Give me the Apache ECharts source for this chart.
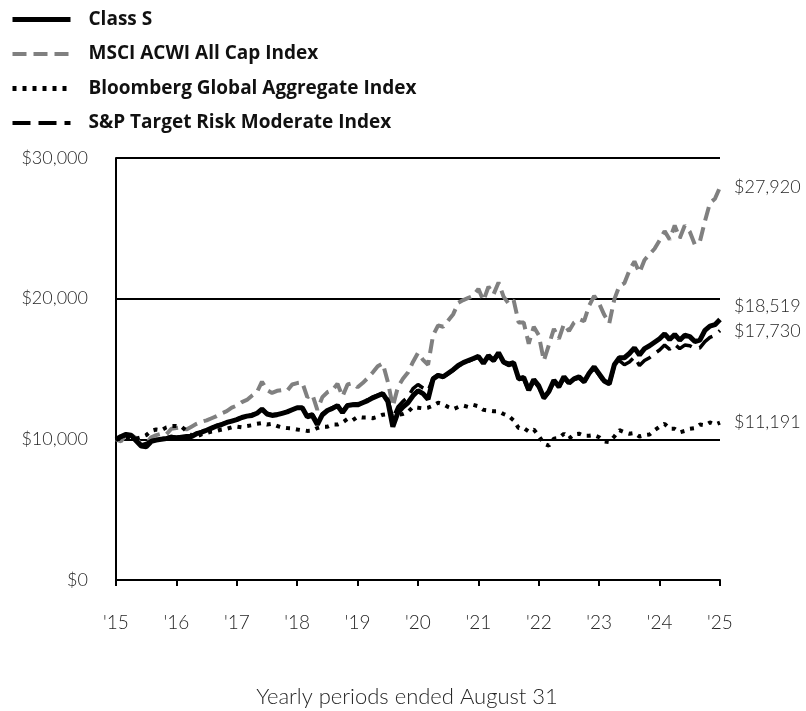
<!DOCTYPE html>
<html>
<head>
<meta charset="utf-8">
<script src="https://cdn.jsdelivr.net/npm/echarts@6/dist/echarts.min.js"></script>
<style>
html,body{margin:0;padding:0;background:#fff;}
#chart{width:806px;height:711px;}
</style>
</head>
<body>
<div id="chart"></div>
<script>
// Monthly points, Aug 2015 .. Aug 2025 (121 points)
const yearLabels = ["'15","'16","'17","'18","'19","'20","'21","'22","'23","'24","'25"];
const seriesNames = ["Class S","MSCI ACWI All Cap Index","Bloomberg Global Aggregate Index","S&P Target Risk Moderate Index"];

const classS = [
10000,10200,10350,10300,9900,9520,9480,9850,9950,10000,10050,10150,
10100,10150,10200,10200,10400,10500,10650,10800,10950,11050,11200,11300,
11400,11550,11650,11700,11850,12150,11800,11700,11750,11850,11950,12100,
12250,12250,11600,11700,11050,11750,12050,12200,12400,11900,12400,12450,
12450,12600,12750,12950,13100,13250,12700,10900,11900,12300,12600,13100,
13450,13250,12850,14300,14550,14450,14700,14950,15250,15450,15600,15750,
15900,15400,15950,15600,16150,15500,15350,15450,14300,14400,13500,14250,
13800,12950,13400,14200,13750,14450,14000,14300,14450,14100,14700,15150,
14650,14150,13950,15300,15800,15800,16100,16500,16000,16450,16650,16900,
17150,17500,17100,17450,17050,17400,17300,16950,17050,17750,18050,18150,
18519];

const msci = [
10000,9850,10350,10300,10100,9600,9700,10150,10300,10400,10350,10750,
10800,10850,10700,10900,11100,11250,11350,11500,11650,11850,12000,12250,
12400,12650,12800,13100,13350,14100,13500,13300,13450,13500,13450,13900,
14000,14050,13000,13200,12100,13000,13350,13500,13950,13050,13900,14000,
13700,14000,14350,14750,15200,15400,14100,12350,13700,14300,14750,15500,
16150,15650,15300,17400,18100,18000,18450,18900,19700,19900,20050,20200,
20700,19850,20850,20300,21150,20150,19650,19900,18300,18300,16800,18000,
17400,15600,16700,17850,17150,18200,17700,18300,18550,18400,19500,20200,
19650,18850,18250,19950,20900,21100,22000,22650,21850,22750,23150,23550,
24150,24800,24200,25200,24300,25200,24750,23850,24050,25500,26800,27100,
27920];

const bloomberg = [
10000,10050,10080,10000,10050,10150,10300,10600,10700,10650,10850,10950,
10950,10900,10600,10250,10200,10350,10450,10550,10600,10700,10750,10850,
10900,10850,10950,11000,11100,11150,11050,11100,10950,10850,10800,10780,
10700,10650,10600,10620,10800,10900,10900,11050,11050,11200,11450,11350,
11600,11550,11550,11500,11600,11750,11800,11600,11750,11800,11950,12300,
12250,12200,12250,12400,12600,12500,12300,12150,12300,12400,12300,12450,
12350,12100,12050,12000,12000,11800,11650,11350,10800,10800,10550,10700,
10250,9700,9550,10050,10100,10400,10050,10350,10400,10250,10250,10300,
10150,9850,9800,10200,10650,10500,10400,10450,10200,10300,10350,10650,
10900,11100,10750,10750,10500,10600,10750,10800,11050,11000,11200,11050,
11191];

const spTarget = [
10000,10150,10300,10250,9950,9600,9700,9900,10000,10050,10100,10200,
10150,10200,10200,10250,10400,10550,10700,10850,10950,11100,11200,11300,
11450,11550,11650,11750,11900,12150,11850,11750,11800,11850,11950,12100,
12250,12250,11700,11800,11200,11800,12050,12250,12400,12000,12450,12500,
12550,12650,12800,13000,13150,13300,12850,11500,12300,12700,13000,13600,
13900,13650,13450,14350,14600,14450,14650,14900,15200,15400,15550,15700,
15850,15350,15850,15550,16050,15450,15250,15350,14250,14300,13450,14150,
13700,12900,13350,14100,13700,14350,13950,14250,14350,14050,14600,15050,
14550,14050,13900,15200,15600,15300,15500,15850,15250,15600,15800,16100,
16350,16700,16400,16750,16450,16700,16650,16450,16500,16950,17250,17400,
17730];

const months = [];
for (let i = 0; i <= 120; i++) {
  const m = (7 + i) % 12, y = 2015 + Math.floor((7 + i) / 12);
  months.push(y + '-' + String(m + 1).padStart(2, '0'));
}

const fmt = v => '$' + Math.round(v).toLocaleString('en-US');
const labelFont = {fontFamily: 'Lato', fontWeight: 300, fontSize: 17, color: '#262626'};

function endLbl(offsetY) {
  return Object.assign({show: true, distance: 14, offset: [0, offsetY],
    formatter: p => fmt(p.value)}, labelFont, {fontSize: 18});
}

const chart = echarts.init(document.getElementById('chart'), null, {renderer: 'canvas'});
chart.setOption({
  animation: false,
  backgroundColor: '#ffffff',
  grid: {left: 116, right: 86, top: 158, bottom: 131, containLabel: false, outerBoundsMode: 'none'},
  legend: {
    left: 10, top: 10, orient: 'vertical', padding: 0,
    itemWidth: 58, itemHeight: 22, itemGap: 15.5,
    itemStyle: {opacity: 0},
    textStyle: {fontFamily: 'Open Sans', fontWeight: 'bold', fontSize: 19, color: '#111', padding: [0, 0, 0, 13]},
    data: [
      {name: seriesNames[0], lineStyle: {width: 5}},
      {name: seriesNames[1], lineStyle: {width: 4}},
      {name: seriesNames[2], lineStyle: {width: 5}},
      {name: seriesNames[3], lineStyle: {width: 4}}
    ]
  },
  xAxis: {
    type: 'category', data: months, boundaryGap: false,
    axisLine: {lineStyle: {color: '#000', width: 2}},
    axisTick: {show: true, interval: 11, length: 6, lineStyle: {color: '#000', width: 2}},
    axisLabel: Object.assign({interval: 11, margin: 33,
      formatter: (v, i) => (i % 12 === 0 ? yearLabels[i / 12] : '')}, labelFont, {fontSize: 19}),
    splitLine: {show: false},
    name: 'Yearly periods ended August 31', nameLocation: 'middle', nameGap: 106,
    nameTextStyle: Object.assign({}, labelFont, {fontSize: 22, padding: [0, 22, 0, 0]})
  },
  yAxis: {
    type: 'value', min: 0, max: 30000, interval: 10000,
    axisLine: {show: true, lineStyle: {color: '#000', width: 2}},
    axisTick: {show: false},
    axisLabel: Object.assign({margin: 28, formatter: v => fmt(v)}, labelFont, {fontSize: 18}),
    splitLine: {show: true, lineStyle: {color: '#000', width: 2}}
  },
  series: [
    {name: seriesNames[1], type: 'line', data: msci, symbol: 'none', z: 2,
     lineStyle: {color: '#808080', width: 4, type: [14, 7]}, itemStyle: {color: '#808080'},
     endLabel: endLbl(0)},
    {name: seriesNames[2], type: 'line', data: bloomberg, symbol: 'none', z: 3,
     lineStyle: {color: '#000', width: 4, type: [4, 6]}, itemStyle: {color: '#000'},
     endLabel: endLbl(0)},
    {name: seriesNames[3], type: 'line', data: spTarget, symbol: 'none', z: 4,
     lineStyle: {color: '#000', width: 3.5, type: [18, 8]}, itemStyle: {color: '#000'},
     endLabel: endLbl(1)},
    {name: seriesNames[0], type: 'line', data: classS, symbol: 'none', z: 5,
     lineStyle: {color: '#000', width: 5}, itemStyle: {color: '#000'},
     endLabel: endLbl(-13)}
  ]
});
</script>
</body>
</html>
